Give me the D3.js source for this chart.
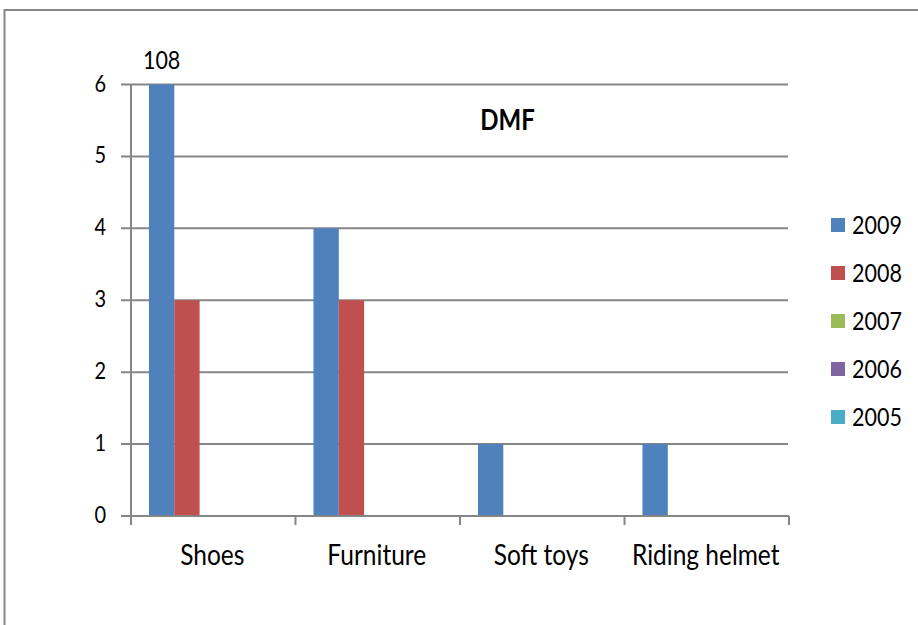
<!DOCTYPE html>
<html><head><meta charset="utf-8">
<script src="https://cdn.jsdelivr.net/npm/d3@7"></script>
<style>body{margin:0;background:#fff}svg{display:block}text{font-family:Lato,"Open Sans",sans-serif;fill:#000}</style>
</head><body><svg id="c" width="918" height="625"></svg>
<script>
const categories = ["Shoes","Furniture","Soft toys","Riding helmet"];
const seriesNames = ["2009","2008","2007","2006","2005"];
const values2009 = [108,4,1,1];
const values2008 = [3,3,0,0];
const values2007 = [0,0,0,0];
const values2006 = [0,0,0,0];
const values2005 = [0,0,0,0];
const seriesValues = [values2009,values2008,values2007,values2006,values2005];
const colors = ["#4F81BD","#C0504D","#9BBB59","#8064A2","#4BACC6"];
const yTicks = [0,1,2,3,4,5,6];
const title = "DMF";

const svg = d3.select("#c");
const SY = 1.2;
const W = 918, H = 625;
svg.append("rect").attr("x",4.5).attr("y",10).attr("width",W+20).attr("height",H+20)
  .attr("fill","#fff").attr("stroke","#868686").attr("stroke-width",2);

const x0 = d3.scaleBand().domain(categories).range([130,788]).padding(0);
const x1 = d3.scaleBand().domain(seriesNames).range([0,x0.bandwidth()]).paddingInner(0).paddingOuter(0.75);
const y = d3.scaleLinear().domain([0,6]).range([516,84.5]);

// gridlines + y ticks
const g = svg.append("g");
g.selectAll("line.grid").data(yTicks).join("line")
  .attr("x1",121).attr("x2",788).attr("y1",d=>y(d)).attr("y2",d=>y(d))
  .attr("stroke","#868686").attr("stroke-width",2);
g.selectAll("text.yt").data(yTicks).join("text")
  .attr("text-anchor","end").attr("font-size",20)
  .attr("transform",d=>`translate(106,${y(d)+7}) scale(1,${SY})`)
  .text(d=>d);

// bars
const clampV = v => Math.min(v,6);
seriesNames.forEach((s,si)=>{
  svg.append("g").selectAll("rect").data(categories).join("rect")
    .attr("x",c=>x0(c)+x1(s)).attr("width",x1.bandwidth())
    .attr("y",(c,i)=>y(clampV(seriesValues[si][i])))
    .attr("height",(c,i)=>y(0)-y(clampV(seriesValues[si][i])))
    .attr("fill",colors[si]);
});

// axes lines
svg.append("line").attr("x1",131).attr("x2",131).attr("y1",y(6)).attr("y2",y(0))
  .attr("stroke","#868686").attr("stroke-width",2);
svg.append("line").attr("x1",130).attr("x2",789).attr("y1",y(0)).attr("y2",y(0))
  .attr("stroke","#868686").attr("stroke-width",2);
const bounds = categories.map(c=>x0(c)).concat([x0.range()[1]]);
svg.append("g").selectAll("line").data(bounds).join("line")
  .attr("x1",d=>d+1).attr("x2",d=>d+1).attr("y1",y(0)).attr("y2",y(0)+9)
  .attr("stroke","#868686").attr("stroke-width",2);

// category labels
svg.append("g").selectAll("text").data(categories).join("text")
  .attr("text-anchor","middle").attr("font-size",24.5)
  .attr("transform",c=>`translate(${x0(c)+x0.bandwidth()/2},565) scale(1,${SY})`)
  .text(c=>c);

// data label for clipped value
categories.forEach((c,i)=>{
  const v = values2009[i];
  if (v>6){
    svg.append("text").attr("text-anchor","middle").attr("font-size",21.5)
      .attr("transform",`translate(${x0(c)+x1("2009")+x1.bandwidth()/2},69) scale(1,${SY})`)
      .text(v);
  }
});

// title
svg.append("text").attr("text-anchor","middle").attr("font-size",24).attr("font-weight","bold")
  .attr("transform",`translate(507.5,130) scale(1,${SY})`).text(title);

// legend
const lg = svg.append("g");
seriesNames.forEach((s,i)=>{
  const cy = 225 + i*48;
  lg.append("rect").attr("x",831).attr("y",cy-7).attr("width",14).attr("height",14).attr("fill",colors[i]);
  lg.append("text").attr("font-size",21.5)
    .attr("transform",`translate(852,${cy+8.5}) scale(1,${SY})`).text(s);
});
</script></body></html>
